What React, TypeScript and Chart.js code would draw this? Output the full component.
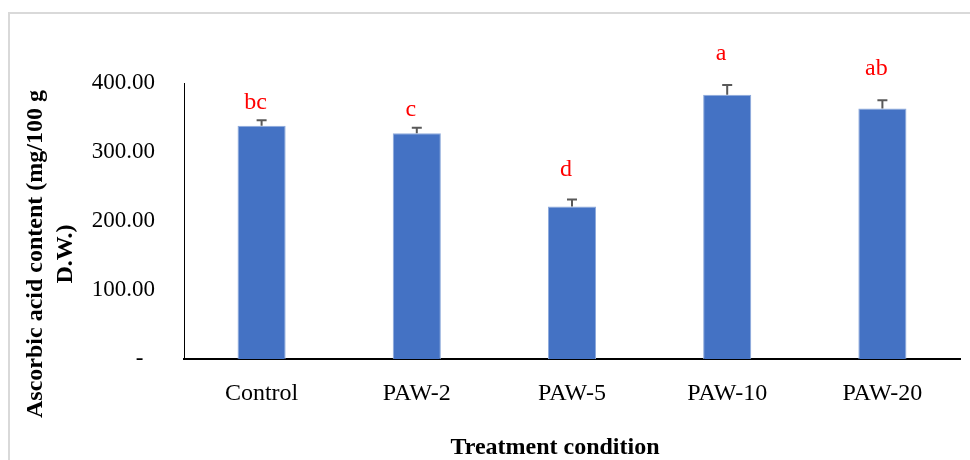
import React, { useEffect, useRef } from "react";
import { Chart, registerables } from "chart.js";

Chart.register(...registerables);

const categories = ["Control", "PAW-2", "PAW-5", "PAW-10", "PAW-20"];
const means = [338, 327, 221, 383, 363];
const errors = [8, 8, 10, 14, 12];
const letters = ["bc", "c", "d", "a", "ab"];
const letterLevels = [371, 361, 274, 443, 420];
const yTicks = [0, 100, 200, 300, 400];
const yTitleLines = ["Ascorbic acid content (mg/100 g", "D.W.)"];
const xTitle = "Treatment condition";

const SERIF = "'Liberation Serif', 'Times New Roman', serif";

const decorPlugin = {
  id: "decor",
  beforeDraw(chart: any) {
    const ctx = chart.ctx;
    ctx.save();
    ctx.fillStyle = "#ffffff";
    ctx.fillRect(0, 0, chart.width, chart.height);
    ctx.strokeStyle = "#d9d9d9";
    ctx.lineWidth = 2;
    ctx.strokeRect(9, 13, 1200, 1000);
    ctx.restore();
  },
  afterDatasetsDraw(chart: any) {
    const ctx = chart.ctx;
    const yScale = chart.scales.y;
    const meta = chart.getDatasetMeta(0);
    ctx.save();
    meta.data.forEach((bar: any, i: number) => {
      const yTop = yScale.getPixelForValue(means[i] + errors[i]);
      ctx.strokeStyle = "#595959";
      ctx.lineWidth = 2;
      ctx.beginPath();
      ctx.moveTo(bar.x, bar.y);
      ctx.lineTo(bar.x, yTop);
      ctx.moveTo(bar.x - 5, yTop);
      ctx.lineTo(bar.x + 5, yTop);
      ctx.stroke();

      ctx.fillStyle = "#ff0000";
      ctx.font = `24px ${SERIF}`;
      ctx.textAlign = "center";
      ctx.textBaseline = "middle";
      ctx.fillText(letters[i], bar.x - 6, yScale.getPixelForValue(letterLevels[i]));
    });
    ctx.restore();
  },
  afterDraw(chart: any) {
    const ctx = chart.ctx;
    ctx.save();
    ctx.fillStyle = "#000000";
    ctx.font = `bold 24px ${SERIF}`;
    ctx.textAlign = "center";
    ctx.textBaseline = "middle";
    ctx.fillText(xTitle, 555, 448);
    ctx.translate(0, 254);
    ctx.rotate(-Math.PI / 2);
    ctx.fillText(yTitleLines[0], 0, 36);
    ctx.fillText(yTitleLines[1], 0, 66);
    ctx.restore();
  },
};

export default function App() {
  const ref = useRef<HTMLCanvasElement | null>(null);

  useEffect(() => {
    if (!ref.current) return;
    const chart = new Chart(ref.current, {
      type: "bar",
      data: {
        labels: categories,
        datasets: [
          {
            data: means,
            backgroundColor: "#4472c4",
            borderColor: "#8eaadb",
            borderWidth: 1,
            barPercentage: 0.31,
            categoryPercentage: 1,
          },
        ],
      },
      options: {
        responsive: false,
        animation: false,
        layout: { padding: { top: 83, right: 10, left: 0, bottom: 0 } },
        plugins: {
          legend: { display: false },
          tooltip: { enabled: false },
        },
        scales: {
          x: {
            grid: { display: false, drawTicks: false },
            border: { display: true, color: "#000000", width: 2 },
            ticks: {
              color: "#000000",
              font: { family: SERIF, size: 24 },
              padding: 20,
              maxRotation: 0,
            },
            afterFit: (s: any) => {
              s.height = 101;
            },
          },
          y: {
            min: 0,
            max: 400,
            grid: { display: false, drawTicks: false },
            border: { display: true, color: "#000000", width: 1 },
            afterBuildTicks: (s: any) => {
              s.ticks = yTicks.map((v) => ({ value: v }));
            },
            ticks: {
              color: "#000000",
              font: { family: SERIF, size: 23 },
              padding: 29,
              callback: (v: any) => (Number(v) === 0 ? "-  " : Number(v).toFixed(2)),
            },
            afterFit: (s: any) => {
              s.width = 184;
            },
          },
        },
      },
      plugins: [decorPlugin],
    });
    return () => chart.destroy();
  }, []);

  return (
    <div style={{ position: "absolute", left: 0, top: 0, width: 970, height: 460 }}>
      <canvas ref={ref} width={970} height={460} style={{ display: "block" }} />
    </div>
  );
}
